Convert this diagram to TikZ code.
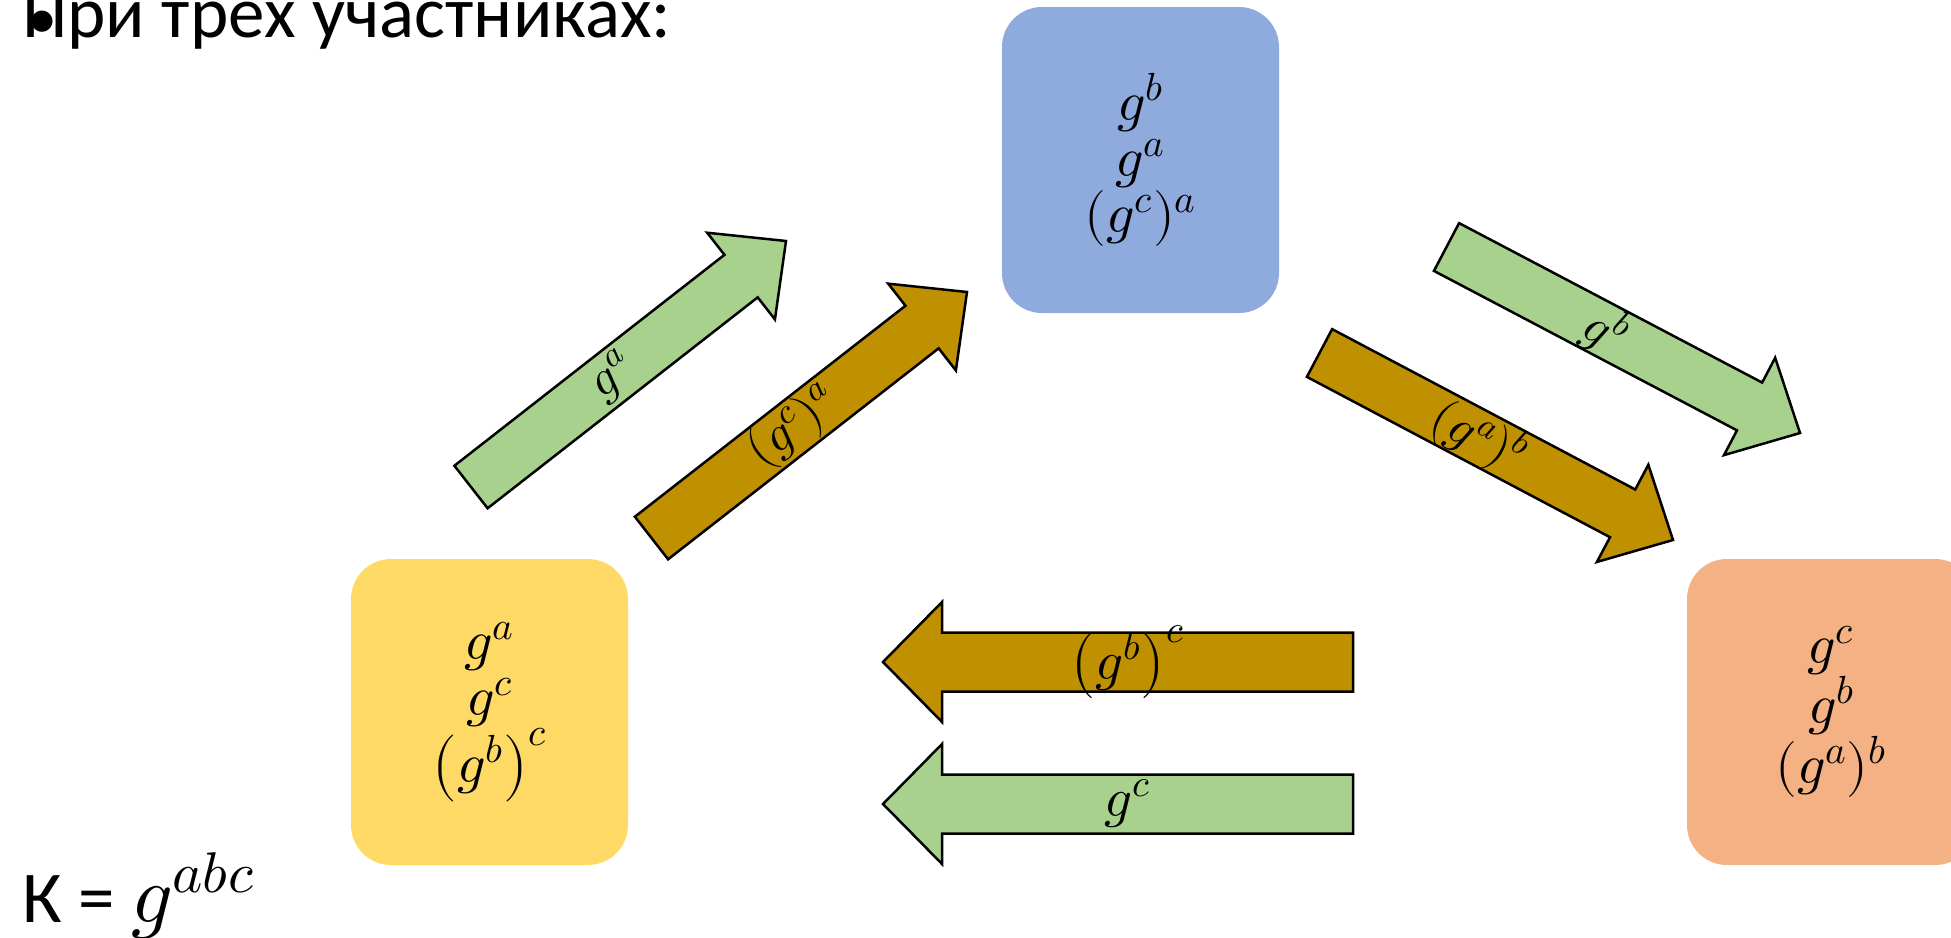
\documentclass[tikz,border=0pt]{standalone}
\usepackage{fontspec}
\usepackage{unicode-math}
\setmainfont{Carlito}
\setmathfont{Latin Modern Math}
\usetikzlibrary{calc}
\definecolor{arrgreen}{HTML}{A9D18E}
\definecolor{arrgold}{HTML}{BF9000}
\definecolor{boxblue}{HTML}{8FAADC}
\definecolor{boxyellow}{HTML}{FFD966}
\definecolor{boxorange}{HTML}{F4B183}
% #1 style, #2 tail, #3 tip, #4 shaft half width, #5 head half width, #6 head length
\newcommand\blkarrow[6]{%
  \coordinate (hb) at ($(#3)!#6!(#2)$);
  \draw[#1] ($(#2)!#4!90:(#3)$) -- ($(hb)!#4!-90:(#2)$) -- ($(hb)!#5!-90:(#2)$)
    -- (#3) -- ($(hb)!#5!90:(#2)$) -- ($(hb)!#4!90:(#2)$) -- ($(#2)!#4!-90:(#3)$) -- cycle;
}
\tikzset{
  party/.style={rounded corners=40pt, minimum width=277pt, minimum height=306pt,
    align=center, inner sep=0pt, font=\fontsize{56}{56}\selectfont},
  greenarr/.style={fill=arrgreen, draw=black, line width=2.5pt, line join=miter},
  goldarr/.style={fill=arrgold, draw=black, line width=2.5pt, line join=miter},
  lbl/.style={inner sep=0pt, font=\fontsize{50}{55}\selectfont},
  hlbl/.style={inner sep=0pt, font=\fontsize{55}{60}\selectfont},
  bigtext/.style={inner sep=0pt, anchor=base west}
}
\begin{document}
\begin{tikzpicture}[x=1pt, y=-1pt]
\useasboundingbox (0,0) rectangle (1951,937);
\fill[white] (0,0) rectangle (1951,937);

% title
\node[bigtext, font=\fontsize{73}{80}\selectfont] (title) at (22,37) {При трех участниках:};
\node[inner sep=0pt, font=\fontsize{60}{70}\selectfont] (bullet) at (42,25) {•};

% parties
\node[party, fill=boxblue] (bob) at (1140.5,160) {$g^b$\\$g^a$\\$(g^c)^a$};
\node[party, fill=boxyellow] (alice) at (489.5,712) {$g^a$\\$g^c$\\$\left(g^b\right)^c$};
\node[party, fill=boxorange, minimum width=288pt] (carol) at (1831,712) {$g^c$\\$g^b$\\$(g^a)^b$};

% arrow end points
\coordinate (gaT) at (471,487);   \coordinate (gaH) at (786,241);
\coordinate (gcaT) at (651.5,538); \coordinate (gcaH) at (967,292);
\coordinate (gbT) at (1446.5,247); \coordinate (gbH) at (1800,433);
\coordinate (gabT) at (1319.5,353); \coordinate (gabH) at (1673,540);
\coordinate (gbcT) at (1353,662); \coordinate (gbcH) at (883,662);
\coordinate (gcT) at (1353,804);  \coordinate (gcH) at (883,804);

\blkarrow{greenarr}{gaT}{gaH}{27pt}{55pt}{57pt}
\blkarrow{goldarr}{gcaT}{gcaH}{27pt}{55pt}{57pt}
\blkarrow{greenarr}{gbT}{gbH}{27pt}{55pt}{57pt}
\blkarrow{goldarr}{gabT}{gabH}{27pt}{55pt}{57pt}
\blkarrow{goldarr}{gbcT}{gbcH}{29.5pt}{60pt}{59pt}
\blkarrow{greenarr}{gcT}{gcH}{29.5pt}{60pt}{59pt}

% labels
\node[lbl, rotate=38] (lga) at ($(gaT)!0.45!(gaH)$) {$g^a$};
\node[lbl, rotate=38] (lgca) at ($(gcaT)!0.45!(gcaH)$) {$(g^c)^a$};
\node[lbl, rotate=-27.75] (lgb) at ($(gbT)!0.45!(gbH)$) {$g^b$};
\node[lbl, rotate=-27.75] (lgab) at ($(gabT)!0.45!(gabH)$) {$(g^a)^b$};
\node[hlbl] (lgbc) at ($(gbcT)!0.48!(gbcH)$) {$\left(g^b\right)^c$};
\node[hlbl] (lgc) at ($(gcT)!0.48!(gcH)$) {$g^c$};

% key
\node[bigtext, font=\fontsize{73}{85}\selectfont] (key) at (22,922) {К = {\fontsize{82}{90}\selectfont$g^{abc}$}};
\end{tikzpicture}
\end{document}
